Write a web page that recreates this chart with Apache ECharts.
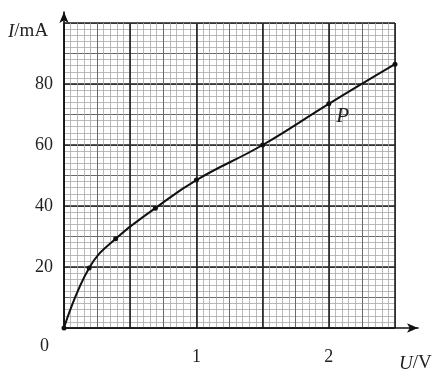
<!DOCTYPE html>
<html>
<head>
<meta charset="utf-8">
<script src="https://cdn.jsdelivr.net/npm/echarts@6/dist/echarts.min.js"></script>
<style>
  html, body { margin: 0; padding: 0; background: #fff; }
  #main { width: 443px; height: 378px; }
</style>
</head>
<body>
<div id="main"></div>
<script>
"use strict";

// U/V 与 I/mA 的测量点
const voltage = [0, 0.19, 0.39, 0.69, 1.0, 1.5, 2.0, 2.5];
const current = [0, 19.7, 29.3, 39.3, 48.5, 60, 73.5, 86.5];
const xTickLabels = [1, 2];
const yTickLabels = [20, 40, 60, 80];

let myChart = echarts.init(document.getElementById('main'));

const serif = '"Liberation Serif", "DejaVu Serif", serif';
const paperXMax = 2.5, paperYMax = 100;
// 带箭头的坐标轴比方格纸稍长
const arrowXMax = paperXMax * 354 / 331;
const arrowYMax = paperYMax * 316 / 305;

let points = voltage.map(function (u, i) {
    let item = { value: [u, current[i]] };
    if (u === 2.0) {
        item.label = {
            show: true,
            formatter: 'P',
            position: [10, 5],
            fontFamily: serif,
            fontStyle: 'italic',
            fontSize: 21,
            color: '#222'
        };
    }
    return item;
});

function paperAxis(pos, interval, color, width, withMinor) {
    return {
        type: 'value',
        gridIndex: 0,
        position: pos,
        offset: 0,
        min: 0,
        interval: interval,
        axisLine: { show: false },
        axisTick: { show: false },
        axisLabel: { show: false },
        splitLine: { show: true, lineStyle: { color: color, width: width } },
        minorTick: { show: false, splitNumber: 5 },
        minorSplitLine: { show: !!withMinor, lineStyle: { color: '#a8a8a8', width: 0.8 } }
    };
}

// 方格纸：细线 / 中线 / 粗线
let xMedium = paperAxis('bottom', 0.25, '#6a6a6a', 1, true);
xMedium.max = paperXMax;
let xMajor = paperAxis('bottom', 0.5, '#222', 1.6, false);
xMajor.max = paperXMax;
xMajor.axisLabel = {
    show: true,
    margin: 20,
    fontFamily: serif,
    fontSize: 18,
    color: '#222',
    formatter: function (v) {
        return xTickLabels.indexOf(v) >= 0 ? String(v) : '';
    }
};

let yMedium = paperAxis('left', 10, '#6a6a6a', 1, true);
yMedium.max = paperYMax;
let yMajor = paperAxis('left', 20, '#222', 1.6, false);
yMajor.max = paperYMax;
yMajor.axisLabel = {
    show: true,
    margin: 11,
    fontFamily: serif,
    fontSize: 18,
    color: '#222',
    formatter: function (v) {
        return yTickLabels.indexOf(v) >= 0 ? String(v) : '';
    }
};

let arrowAxisLine = {
    show: true,
    symbol: ['none', 'arrow'],
    symbolSize: [7, 11],
    lineStyle: { color: '#111', width: 1.6 }
};

let option = {
    animation: false,
    backgroundColor: '#fff',
    grid: [
        { left: 64, top: 23, width: 331, height: 305 },
        { left: 64, top: 12, width: 354, height: 316 }
    ],
    xAxis: [
        xMedium,
        xMajor,
        {
            type: 'value', gridIndex: 1, position: 'bottom', min: 0, max: arrowXMax,
            axisLine: arrowAxisLine,
            axisTick: { show: false }, axisLabel: { show: false }, splitLine: { show: false }
        }
    ],
    yAxis: [
        yMedium,
        yMajor,
        {
            type: 'value', gridIndex: 1, position: 'left', min: 0, max: arrowYMax,
            axisLine: arrowAxisLine,
            axisTick: { show: false }, axisLabel: { show: false }, splitLine: { show: false }
        }
    ],
    series: [{
        type: 'line',
        xAxisIndex: 1,
        yAxisIndex: 1,
        smooth: 0.45,
        symbol: 'circle',
        symbolSize: 5,
        itemStyle: { color: '#111' },
        lineStyle: { color: '#111', width: 2 },
        data: points
    }],
    graphic: [
        {
            type: 'text', left: 8, top: 22,
            style: {
                text: '{i|I}/mA',
                rich: { i: { fontStyle: 'italic', fontFamily: serif, fontSize: 19, fill: '#222' } },
                font: '19px ' + serif, fill: '#222'
            }
        },
        {
            type: 'text', left: 399, top: 354,
            style: {
                text: '{i|U}/V',
                rich: { i: { fontStyle: 'italic', fontFamily: serif, fontSize: 19, fill: '#222' } },
                font: '19px ' + serif, fill: '#222'
            }
        },
        {
            type: 'text', left: 40, top: 337,
            style: { text: '0', font: '18px ' + serif, fill: '#222' }
        }
    ]
};

myChart.setOption(option);

window.addEventListener('resize', function () {
    myChart.resize();
});
</script>
</body>
</html>
